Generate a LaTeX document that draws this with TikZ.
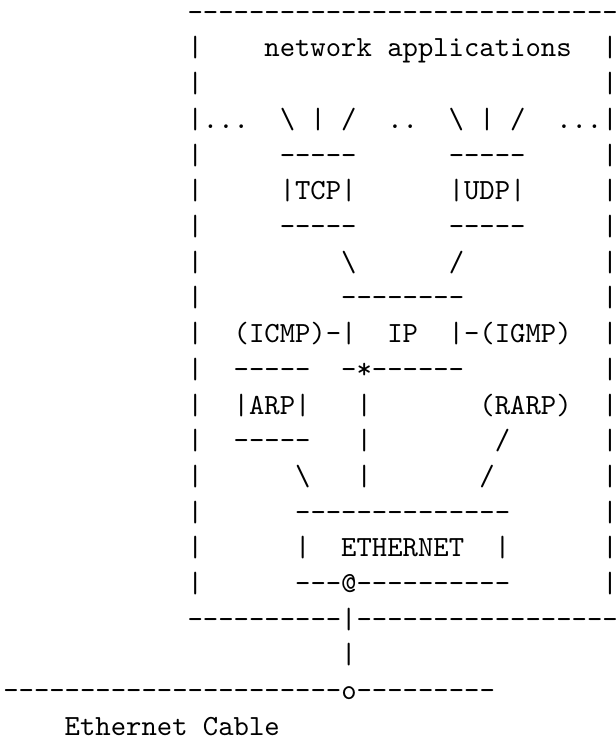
\documentclass[tikz,border=0pt]{standalone}
\newcount\dshcnt
\newcommand\Dsh[1]{\dshcnt=#1\relax\loop\ifnum\dshcnt>0 -\kern0pt\advance\dshcnt-1\relax\repeat}
\newcommand\Sp[1]{\kern#1\dimexpr0.525em\relax}
\newcommand\bs{\textbackslash}
\begin{document}
\begin{tikzpicture}[x={(0.34176pt,0)},y={(0,-0.34176pt)},
  row/.style={anchor=base west,inner sep=0pt,outer sep=0pt,
    font=\fontsize{10}{12}\selectfont\ttfamily}]
\fill[white] (0,0) rectangle (615,742);
\useasboundingbox (0,0) rectangle (615,742);
\def\cw{15.36}\def\lp{35.7}
\node[row] (r1)  at ({3.3+12*\cw},{21.3+0*\lp})  {\Dsh{28}};
\node[row] (r2)  at ({3.3+12*\cw},{21.3+1*\lp})  {|\Sp4network\Sp1applications\Sp2|};
\node[row] (r3)  at ({3.3+12*\cw},{21.3+2*\lp})  {|\Sp{26}|};
\node[row] (r4)  at ({3.3+12*\cw},{21.3+3*\lp})  {|...\Sp2\bs\Sp1|\Sp1/\Sp2..\Sp2\bs\Sp1|\Sp1/\Sp2...|};
\node[row] (r5)  at ({3.3+12*\cw},{21.3+4*\lp})  {|\Sp5\Dsh5\Sp6\Dsh5\Sp5|};
\node[row] (r6)  at ({3.3+12*\cw},{21.3+5*\lp})  {|\Sp5|TCP|\Sp6|UDP|\Sp5|};
\node[row] (r7)  at ({3.3+12*\cw},{21.3+6*\lp})  {|\Sp5\Dsh5\Sp6\Dsh5\Sp5|};
\node[row] (r8)  at ({3.3+12*\cw},{21.3+7*\lp})  {|\Sp9\bs\Sp6/\Sp9|};
\node[row] (r9)  at ({3.3+12*\cw},{21.3+8*\lp})  {|\Sp9\Dsh8\Sp9|};
\node[row] (r10) at ({3.3+12*\cw},{21.3+9*\lp})  {|\Sp2(ICMP)\Dsh1|\Sp2IP\Sp2|\Dsh1(IGMP)\Sp2|};
\node[row] (r11) at ({3.3+12*\cw},{21.3+10*\lp}) {|\Sp2\Dsh5\Sp2\Dsh1*\Dsh6\Sp9|};
\node[row] (r12) at ({3.3+12*\cw},{21.3+11*\lp}) {|\Sp2|ARP|\Sp3|\Sp7(RARP)\Sp2|};
\node[row] (r13) at ({3.3+12*\cw},{21.3+12*\lp}) {|\Sp2\Dsh5\Sp3|\Sp8/\Sp6|};
\node[row] (r14) at ({3.3+12*\cw},{21.3+13*\lp}) {|\Sp6\bs\Sp3|\Sp7/\Sp7|};
\node[row] (r15) at ({3.3+12*\cw},{21.3+14*\lp}) {|\Sp6\Dsh{14}\Sp6|};
\node[row] (r16) at ({3.3+12*\cw},{21.3+15*\lp}) {|\Sp6|\Sp2ETHERNET\Sp2|\Sp6|};
\node[row] (r17) at ({3.3+12*\cw},{21.3+16*\lp}) {|\Sp6\Dsh3@\Dsh{10}\Sp6|};
\node[row] (r18) at ({3.3+12*\cw},{21.3+17*\lp}) {\Dsh{10}|\Dsh{17}};
\node[row] (r19) at ({3.3+22*\cw},{21.3+18*\lp}) {|};
\node[row] (r20) at ({3.3+0*\cw},{21.3+19*\lp})  {\Dsh{22}o\Dsh9};
\node[row] (r21) at ({3.3+4*\cw},{21.3+20*\lp})  {Ethernet\Sp1Cable};
\end{tikzpicture}
\end{document}
